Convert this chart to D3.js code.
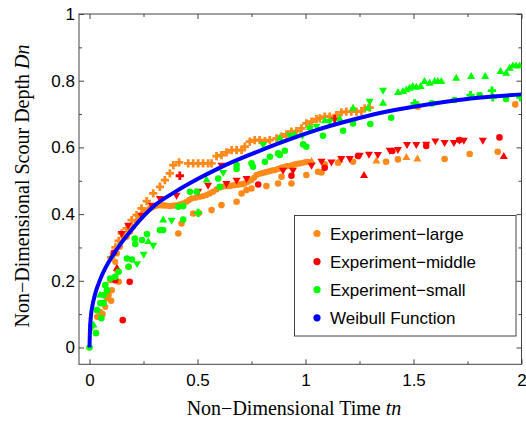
<!DOCTYPE html>
<html>
<head>
<meta charset="utf-8">
<script src="https://cdn.jsdelivr.net/npm/d3@7/dist/d3.min.js"></script>
<style>
  body { margin: 0; background: #fff; }
</style>
</head>
<body>
<div class="chart"></div>
<script>
// values, each point is [tn, Dn]

// Experiment-large (orange)
var largeCross = [[0.100,0.270],[0.120,0.300],[0.135,0.320],[0.149,0.342],[0.172,0.357],[0.195,0.382],[0.218,0.397],[0.241,0.417],[0.265,0.439],[0.295,0.462],[0.326,0.482],[0.349,0.502],[0.372,0.522],[0.388,0.547],[0.415,0.555],[0.457,0.552],[0.480,0.552],[0.503,0.552],[0.526,0.552],[0.549,0.552],[0.565,0.552],[0.588,0.574],[0.611,0.577],[0.634,0.585],[0.658,0.592],[0.681,0.592],[0.704,0.592],[0.719,0.602],[0.742,0.617],[0.765,0.622],[0.788,0.622],[0.812,0.619],[0.835,0.622],[0.866,0.627],[0.889,0.632],[0.912,0.639],[0.935,0.647],[0.958,0.649],[0.981,0.657],[1.004,0.672],[1.028,0.677],[1.051,0.685],[1.066,0.687],[1.089,0.692],[1.112,0.692],[1.143,0.697],[1.166,0.705],[1.189,0.707],[1.212,0.707],[1.236,0.707],[1.259,0.709],[1.274,0.717],[1.297,0.719]];
var largeLine = [[0.035,0.092],[0.050,0.107],[0.073,0.122],[0.081,0.148],[0.089,0.157],[0.104,0.172],[0.096,0.202],[0.112,0.207],[0.127,0.232],[0.119,0.257],[0.127,0.282],[0.141,0.302],[0.158,0.330],[0.172,0.332],[0.188,0.347],[0.203,0.362],[0.218,0.377],[0.234,0.392],[0.245,0.400],[0.257,0.407],[0.268,0.412],[0.280,0.417],[0.292,0.421],[0.303,0.424],[0.315,0.426],[0.326,0.427],[0.338,0.426],[0.349,0.426],[0.360,0.425],[0.372,0.424],[0.384,0.425],[0.395,0.426],[0.411,0.427],[0.422,0.430],[0.434,0.432],[0.449,0.437],[0.461,0.442],[0.473,0.447],[0.492,0.449],[0.511,0.452],[0.526,0.454],[0.542,0.457],[0.557,0.462],[0.572,0.467],[0.588,0.474],[0.603,0.480],[0.615,0.482],[0.627,0.484],[0.640,0.484],[0.650,0.484],[0.662,0.486],[0.673,0.487],[0.685,0.488],[0.696,0.489],[0.708,0.490],[0.719,0.492],[0.734,0.497],[0.750,0.502],[0.762,0.509],[0.773,0.517],[0.788,0.521],[0.800,0.523],[0.812,0.525],[0.823,0.527],[0.835,0.529],[0.846,0.531],[0.858,0.532],[0.870,0.535],[0.881,0.537],[0.892,0.540],[0.904,0.542],[0.915,0.544],[0.927,0.545],[0.938,0.547],[0.950,0.549],[0.962,0.551],[0.973,0.552],[0.989,0.554],[1.000,0.556],[1.012,0.557]];
var largeCircle = [[0.060,0.100],[0.100,0.140],[0.135,0.197],[0.181,0.242],[0.411,0.342],[0.426,0.372],[0.480,0.402],[0.506,0.403],[0.565,0.412],[0.611,0.427],[0.681,0.437],[0.704,0.462],[0.727,0.472],[0.750,0.477],[0.819,0.484],[0.873,0.492],[0.889,0.512],[0.935,0.492],[1.004,0.517],[1.058,0.527],[1.074,0.525],[1.089,0.549],[1.151,0.554],[1.220,0.557],[1.373,0.557],[1.428,0.564],[1.644,0.565],[1.760,0.580],[1.890,0.587],[1.520,0.722],[1.971,0.729]];
var largeUp = [[1.028,0.557],[1.158,0.562],[1.328,0.559],[1.467,0.569],[1.518,0.565]];

// Experiment-middle (red)
var middleDown = [[0.149,0.342],[0.179,0.367],[0.241,0.397],[0.288,0.427],[0.326,0.447],[0.403,0.457],[0.503,0.469],[0.549,0.487],[0.611,0.547],[0.634,0.492],[0.681,0.502],[0.727,0.507],[0.896,0.532],[0.942,0.532],[1.028,0.547],[1.074,0.559],[1.120,0.557],[1.166,0.567],[1.205,0.567],[1.251,0.577],[1.294,0.580],[1.335,0.579],[1.390,0.592],[1.428,0.594],[1.470,0.609],[1.513,0.609],[1.559,0.610],[1.601,0.620],[1.644,0.615],[1.687,0.615],[1.713,0.622],[1.733,0.622],[1.821,0.622]];
var middleCircle = [[0.112,0.284],[0.119,0.202],[0.154,0.082],[0.186,0.197],[0.781,0.489],[0.935,0.515],[1.089,0.539],[1.243,0.574],[1.402,0.589],[1.559,0.604],[1.713,0.622],[1.898,0.630]];
var middleUp = [[0.127,0.237],[1.271,0.515],[1.918,0.572]];
var middleDiamond = [[0.418,0.515],[1.135,0.685]];

// Experiment-small (green)
var smallUp = [[0.018,0.067],[0.049,0.157],[0.272,0.317],[0.341,0.382],[0.542,0.502],[0.881,0.627],[0.950,0.637],[1.020,0.659],[1.089,0.679],[1.158,0.685],[1.220,0.717],[1.289,0.717],[1.359,0.732],[1.428,0.764],[1.451,0.767],[1.467,0.772],[1.482,0.777],[1.497,0.782],[1.513,0.780],[1.533,0.782],[1.551,0.797],[1.575,0.792],[1.598,0.797],[1.613,0.797],[1.629,0.797],[1.698,0.807],[1.767,0.812],[1.832,0.812],[1.903,0.827],[1.929,0.822],[1.945,0.837],[1.960,0.844],[1.975,0.844],[1.991,0.844]];
var smallDown = [[0.012,0.062],[0.220,0.252],[0.251,0.280],[0.295,0.307],[0.380,0.382],[0.619,0.525],[0.804,0.609],[0.927,0.637],[0.986,0.637],[1.020,0.657],[1.051,0.664],[1.112,0.679],[1.297,0.739],[1.359,0.772]];
var smallCircle = [[0,0],[0.030,0.043],[0.035,0.112],[0.055,0.088],[0.050,0.133],[0.066,0.133],[0.066,0.157],[0.081,0.172],[0.073,0.187],[0.096,0.207],[0.119,0.212],[0.135,0.227],[0.181,0.242],[0.173,0.267],[0.197,0.264],[0.210,0.327],[0.212,0.310],[0.243,0.322],[0.266,0.340],[0.326,0.352],[0.341,0.352],[0.411,0.422],[0.434,0.424],[0.434,0.384],[0.465,0.467],[0.496,0.467],[0.596,0.507],[0.603,0.482],[0.681,0.547],[0.681,0.535],[0.750,0.552],[0.757,0.542],[0.812,0.557],[0.835,0.572],[0.873,0.582],[0.881,0.577],[0.904,0.590],[0.989,0.609],[1.004,0.602],[1.081,0.635],[1.174,0.650],[1.220,0.672],[1.300,0.670],[1.397,0.689],[1.513,0.730],[1.585,0.732],[1.690,0.742],[1.806,0.757],[1.929,0.745]];
var smallDiamond = [[0.503,0.404],[1.505,0.732],[1.764,0.757],[1.863,0.770],[1.867,0.750],[1.995,0.750]];

// Weibull function, points
var weibullT = [0, 0.002, 0.006, 0.012, 0.025, 0.05, 0.075, 0.1, 0.15, 0.2, 0.3, 0.4, 0.5, 0.6, 0.75, 0.9, 1.05, 1.2, 1.35, 1.5, 1.65, 1.8, 2];
var weibullD = [0, 0.05, 0.09, 0.12, 0.158, 0.205, 0.24, 0.268, 0.316, 0.357, 0.425, 0.468, 0.505, 0.538, 0.58, 0.618, 0.652, 0.68, 0.704, 0.722, 0.737, 0.749, 0.759];

var xTicks = [0, 0.5, 1, 1.5, 2];
var xTickLabels = ['0', '0.5', '1', '1.5', '2'];
var xMinor = [0.25, 0.75, 1.25, 1.75];
var yTicks = [0, 0.2, 0.4, 0.6, 0.8, 1];
var yTickLabels = ['0', '0.2', '0.4', '0.6', '0.8', '1'];
var yMinor = [0.1, 0.3, 0.5, 0.7, 0.9];

var legendNames = ['Experiment\u2212large', 'Experiment\u2212middle', 'Experiment\u2212small', 'Weibull Function'];
var legendColors = ['#ff8a1a', '#ff0000', '#00ff00', '#0000ff'];

var opts = {
  width: 526, height: 421,
  left: 79, right: 521.5, top: 14, bottom: 364.3
};

var svg = d3.select('.chart').append('svg')
  .attr('width', opts.width).attr('height', opts.height);

var x = d3.scaleLinear().domain([0, 2]).range([89.5, 521.5]);
var y = d3.scaleLinear().domain([0, 1]).range([347.5, 14]);

var sans = '"Liberation Sans", Arial, sans-serif';
var serif = '"Liberation Serif", "Times New Roman", serif';

// frame ticks, all pointing inward
var addAxis = function (axis, tx, ty, labels) {
  var g = svg.append('g').attr('transform', 'translate(' + tx + ',' + ty + ')').call(axis);
  g.select('.domain').remove();
  g.selectAll('line').attr('stroke', '#444');
  g.selectAll('text').attr('fill', '#000').style('font-family', sans).style('font-size', '17px');
  if (!labels) g.selectAll('text').remove();
  return g;
};

addAxis(d3.axisBottom(x).tickValues(xTicks).tickFormat(function (d, i) { return xTickLabels[i]; })
  .tickSizeInner(-5).tickSizeOuter(0).tickPadding(10), 0, opts.bottom, true);
addAxis(d3.axisBottom(x).tickValues(xMinor).tickSizeInner(-3).tickSizeOuter(0), 0, opts.bottom, false);
addAxis(d3.axisTop(x).tickValues(xTicks).tickSizeInner(-5).tickSizeOuter(0), 0, opts.top, false);
addAxis(d3.axisTop(x).tickValues(xMinor).tickSizeInner(-3).tickSizeOuter(0), 0, opts.top, false);
addAxis(d3.axisLeft(y).tickValues(yTicks).tickFormat(function (d, i) { return yTickLabels[i]; })
  .tickSizeInner(-5).tickSizeOuter(0).tickPadding(4), opts.left, 0, true);
addAxis(d3.axisLeft(y).tickValues(yMinor).tickSizeInner(-3).tickSizeOuter(0), opts.left, 0, false);
addAxis(d3.axisRight(y).tickValues(yTicks).tickSizeInner(-5).tickSizeOuter(0), opts.right, 0, false);
addAxis(d3.axisRight(y).tickValues(yMinor).tickSizeInner(-3).tickSizeOuter(0), opts.right, 0, false);

svg.append('rect')
  .attr('x', opts.left).attr('y', opts.top)
  .attr('width', opts.right - opts.left).attr('height', opts.bottom - opts.top)
  .attr('fill', 'none').attr('stroke', '#444').attr('stroke-width', 1);

svg.append('clipPath').attr('id', 'plotclip').append('rect')
  .attr('x', opts.left).attr('y', opts.top)
  .attr('width', opts.right - opts.left).attr('height', opts.bottom - opts.top);

var plot = svg.append('g').attr('clip-path', 'url(#plotclip)');

var drawPoints = function (data, color, type, size, flip) {
  plot.append('g').selectAll('path')
    .data(data)
    .enter()
    .append('path')
    .attr('d', d3.symbol().type(type).size(size))
    .attr('transform', function (d) {
      return 'translate(' + x(d[0]) + ',' + y(d[1]) + ')' + (flip ? ' rotate(180)' : '');
    })
    .attr('fill', color);
};

drawPoints(largeLine, legendColors[0], d3.symbolCircle, 30);
drawPoints(largeCross, legendColors[0], d3.symbolCross, 38);
drawPoints(largeCircle, legendColors[0], d3.symbolCircle, 34);
drawPoints(largeUp, legendColors[0], d3.symbolTriangle, 28);

drawPoints(middleDown, legendColors[1], d3.symbolTriangle, 28, true);
drawPoints(middleCircle, legendColors[1], d3.symbolCircle, 34);
drawPoints(middleUp, legendColors[1], d3.symbolTriangle, 28);
drawPoints(middleDiamond, legendColors[1], d3.symbolCross, 38);

drawPoints(smallUp, legendColors[2], d3.symbolTriangle, 28);
drawPoints(smallDown, legendColors[2], d3.symbolTriangle, 28, true);
drawPoints(smallCircle, legendColors[2], d3.symbolCircle, 34);
drawPoints(smallDiamond, legendColors[2], d3.symbolCross, 38);

var line = d3.line()
  .x(function (d, i) { return x(weibullT[i]); })
  .y(function (d) { return y(d); })
  .curve(d3.curveMonotoneX);

plot.append('path')
  .attr('d', line(weibullD))
  .attr('fill', 'none')
  .attr('stroke', legendColors[3])
  .attr('stroke-width', 4);

// legend
var legend = svg.append('g');
legend.append('rect')
  .attr('x', 294.5).attr('y', 215.5).attr('width', 221.5).attr('height', 120.5)
  .attr('fill', '#fff').attr('stroke', '#444').attr('stroke-width', 1);

var rows = legend.selectAll('g.row')
  .data(legendNames)
  .enter()
  .append('g')
  .attr('transform', function (d, i) { return 'translate(317,' + (233.5 + i * 28.1) + ')'; });

rows.append('circle').attr('r', 3.6).attr('fill', function (d, i) { return legendColors[i]; });
rows.append('text')
  .attr('x', 13).attr('y', 6)
  .style('font-family', sans).style('font-size', '17px')
  .text(function (d) { return d; });

// axis titles
var xTitle = svg.append('text')
  .attr('x', 294).attr('y', 415)
  .attr('text-anchor', 'middle')
  .style('font-family', serif).style('font-size', '20px');
xTitle.append('tspan').text('Non\u2212Dimensional Time ');
xTitle.append('tspan').style('font-style', 'italic').text('tn');

var yTitle = svg.append('text')
  .attr('transform', 'translate(29,186) rotate(-90)')
  .attr('text-anchor', 'middle')
  .style('font-family', serif).style('font-size', '20px');
yTitle.append('tspan').text('Non\u2212Dimensional Scour Depth ');
yTitle.append('tspan').style('font-style', 'italic').text('Dn');
</script>
</body>
</html>
